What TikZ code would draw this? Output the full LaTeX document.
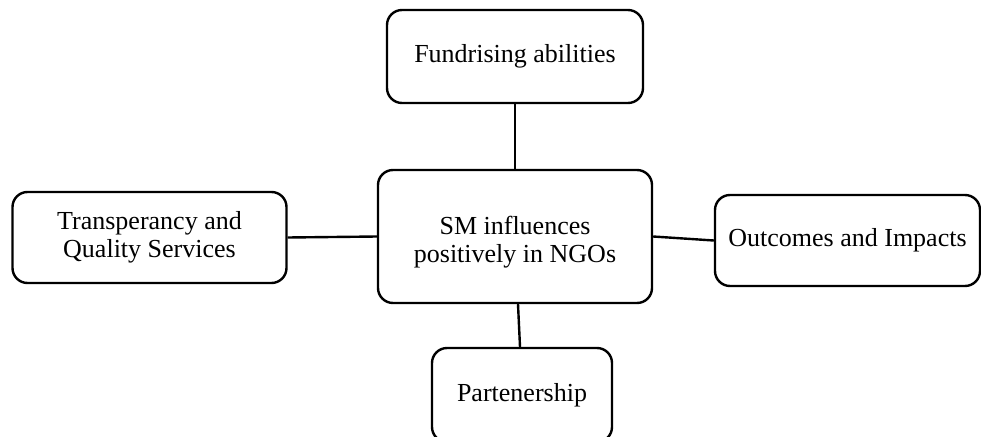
\documentclass[tikz,border=0pt]{standalone}
\usepackage{fontspec}
\setmainfont{Liberation Serif}
\begin{document}
\begin{tikzpicture}[x=1pt,y=-1pt,
  box/.style={draw=black, line width=2.4pt, rounded corners=15pt, align=center,
    inner sep=0pt, font=\fontsize{26}{27.5}\selectfont},
  label text/.style={align=center, inner sep=0pt, font=\fontsize{26}{27.5}\selectfont},
  link/.style={draw=black, line width=2.4pt}]
  \useasboundingbox (0,0) rectangle (981,436);
  \node[box, minimum width=256, minimum height=93] (fund) at (515,56.5) {Fundrising abilities};
  \node[box, minimum width=274, minimum height=133] (sm) at (515,236.5) {};
  \node[label text] (smtext) at (515,242) {SM influences\\positively in NGOs};
  \node[box, minimum width=274, minimum height=91] (trans) at (149.5,237.5) {Transperancy and\\Quality Services};
  \node[box, minimum width=265, minimum height=91] (out) at (847.5,240.5) {Outcomes and Impacts};
  \node[box, minimum width=180, minimum height=94] (part) at (522,395) {Partenership};
  \draw[link] (fund.south) -- (sm.north);
  \draw[link] (trans.east) -- (sm.west);
  \draw[link] (sm.east) -- (out.west);
  \draw[link] ([xshift=3pt]sm.south) -- ([xshift=-2pt]part.north);
\end{tikzpicture}
\end{document}
